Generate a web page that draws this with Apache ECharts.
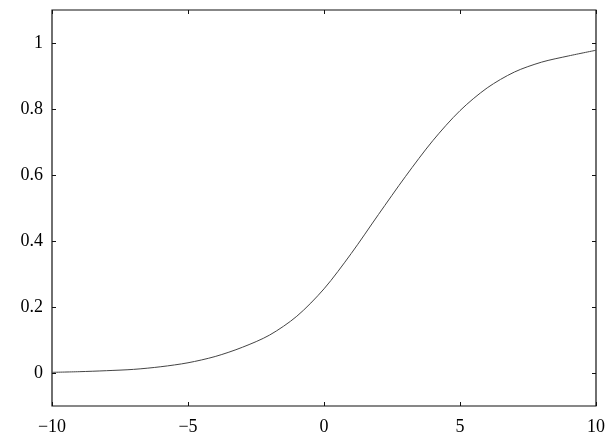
<!DOCTYPE html>
<html>
<head>
<meta charset="utf-8">
<script src="https://cdn.jsdelivr.net/npm/echarts@6/dist/echarts.min.js"></script>
<style>html,body{margin:0;padding:0;background:#fff;}#c{width:608px;height:441px;}</style>
</head>
<body>
<div id="c"></div>
<script>
var xValues = [-10, -9, -8, -7, -6, -5, -4, -3, -2, -1, 0, 1, 2, 3, 4, 5, 6, 7, 8, 9, 10];
var yValues = [0.002, 0.004, 0.007, 0.011, 0.019, 0.031, 0.050, 0.078, 0.115, 0.172, 0.255, 0.362, 0.480, 0.596, 0.704, 0.795, 0.864, 0.912, 0.942, 0.961, 0.978];
var xTicks = [-10, -5, 0, 5, 10];
var yTicks = [0, 0.2, 0.4, 0.6, 0.8, 1];

var points = xValues.map(function (x, i) { return [x, yValues[i]]; });
var font = 'Liberation Serif';
var chart = echarts.init(document.getElementById('c'), null, {renderer: 'canvas'});
function tick() { return {show: true, inside: true, length: 4, lineStyle: {color: '#111', width: 1}}; }
function ytick() { var t = tick(); t.customValues = yTicks; return t; }
var noLine = {show: false, onZero: false};
chart.setOption({
  animation: false,
  backgroundColor: '#fff',
  grid: {left: 52, right: 6, top: 10, bottom: 35, show: true, borderColor: '#111', borderWidth: 1.2},
  xAxis: [{
    type: 'value', min: -10, max: 10, interval: 5, position: 'bottom',
    axisLine: noLine, splitLine: {show: false},
    axisTick: tick(),
    axisLabel: {color: '#000', fontFamily: font, fontSize: 18, margin: 12, customValues: xTicks,
      formatter: function (v) { return String(v).replace('-', '\u2212'); }}
  }, {
    type: 'value', min: -10, max: 10, interval: 5, position: 'top',
    axisLine: noLine, splitLine: {show: false},
    axisTick: tick(), axisLabel: {show: false}
  }],
  yAxis: [{
    type: 'value', min: -0.1, max: 1.1, position: 'left',
    axisLine: noLine, splitLine: {show: false},
    axisTick: ytick(),
    axisLabel: {color: '#000', fontFamily: font, fontSize: 18, margin: 9, customValues: yTicks,
      formatter: function (v) { return String(+v.toFixed(1)); }}
  }, {
    type: 'value', min: -0.1, max: 1.1, position: 'right',
    axisLine: noLine, splitLine: {show: false},
    axisTick: ytick(),
    axisLabel: {show: false, customValues: yTicks}
  }],
  series: [{
    type: 'line', data: points, smooth: 0.3, showSymbol: false,
    lineStyle: {color: '#444', width: 1}
  }]
});
</script>
</body>
</html>
